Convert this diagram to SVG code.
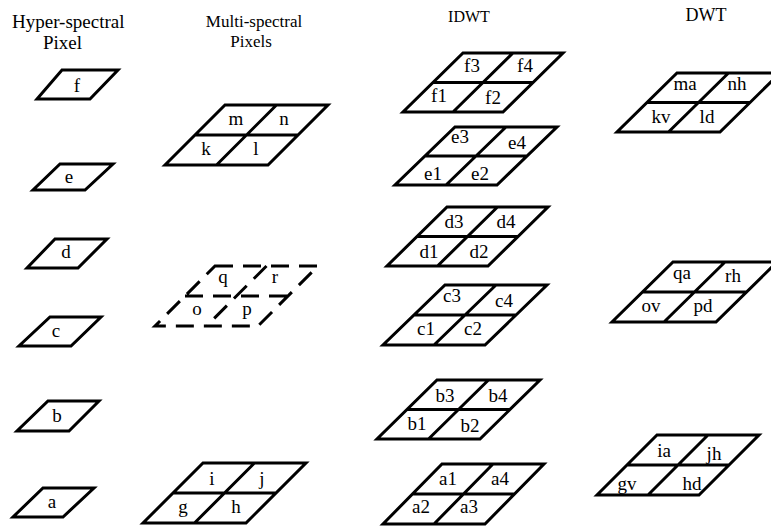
<svg xmlns="http://www.w3.org/2000/svg" width="771" height="527" viewBox="0 0 771 527">
<style>
.c{fill:none;stroke:#000;stroke-width:3;stroke-linejoin:miter}
.d{stroke-dasharray:18,10}
text{font-family:"Liberation Serif","Times New Roman",serif;font-size:19px;fill:#000}
.m{text-anchor:middle}
</style>
<rect width="771" height="527" fill="#fff"/>
<g id="titles">
<text x="12" y="28">Hyper-spectral</text>
<text x="43" y="49">Pixel</text>
<text class="m" x="254" y="27" style="font-size:17px">Multi-spectral</text>
<text class="m" x="251" y="47" style="font-size:17px">Pixels</text>
<text class="m" x="469" y="22" style="font-size:16px">IDWT</text>
<text class="m" x="706" y="21" style="font-size:18px">DWT</text>
</g>
<g id="hyper-f"><path class="c" d="M62 70L118 70L90 99L37 99Z"/><text class="m" x="77" y="92">f</text></g>
<g id="hyper-e"><path class="c" d="M60 164L113 164L85 190L33 190Z"/><text class="m" x="69" y="183">e</text></g>
<g id="hyper-d"><path class="c" d="M55 239L107 239L78 268L27 268Z"/><text class="m" x="66" y="258">d</text></g>
<g id="hyper-c"><path class="c" d="M50 317L101 317L71 346L19 346Z"/><text class="m" x="56" y="337">c</text></g>
<g id="hyper-b"><path class="c" d="M48 401L99 401L69 431L17 431Z"/><text class="m" x="57" y="422">b</text></g>
<g id="hyper-a"><path class="c" d="M43 488L94 488L63 517L13 517Z"/><text class="m" x="52" y="508">a</text></g>

<g id="multi-mnkl"><path class="c" d="M225 105L328 105L268 165L165 165ZM195 135L298 135M276.5 105L216.5 165"/>
<text class="m" x="236" y="125">m</text><text class="m" x="284" y="125">n</text><text class="m" x="206" y="155">k</text><text class="m" x="256" y="155">l</text></g>
<g id="multi-opqr"><path class="c d" d="M215 266L318 266L258 326L155 326ZM185 296L288 296M266.5 266L206.5 326"/>
<text class="m" x="223" y="283">q</text><text class="m" x="275" y="283">r</text><text class="m" x="197" y="315">o</text><text class="m" x="247" y="315">p</text></g>
<g id="multi-ijgh"><path class="c" d="M203 463L306 463L246 523L143 523ZM173 493L276 493M254.5 463L194.5 523"/>
<text class="m" x="212" y="485">i</text><text class="m" x="262" y="485">j</text><text class="m" x="183" y="513">g</text><text class="m" x="236" y="513">h</text></g>

<g id="idwt-f"><path class="c" d="M463 53L563 53L503 112L403 112ZM433 82.5L533 82.5M513 53L453 112"/>
<text class="m" x="472" y="72">f3</text><text class="m" x="525" y="72">f4</text><text class="m" x="439" y="102">f1</text><text class="m" x="493" y="104">f2</text></g>
<g id="idwt-e"><path class="c" d="M455 127L557 127L497 185L395 185ZM425 156L527 156M506 127L446 185"/>
<text class="m" x="460" y="143">e3</text><text class="m" x="517" y="149">e4</text><text class="m" x="433" y="180">e1</text><text class="m" x="480" y="180">e2</text></g>
<g id="idwt-d"><path class="c" d="M447 207L548 207L488 266L387 266ZM417 236.5L518 236.5M497.5 207L437.5 266"/>
<text class="m" x="454" y="228">d3</text><text class="m" x="506" y="228">d4</text><text class="m" x="429" y="258">d1</text><text class="m" x="479" y="258">d2</text></g>
<g id="idwt-c"><path class="c" d="M445 285L547 285L485 345L383 345ZM414 315L516 315M496 285L434 345"/>
<text class="m" x="452" y="302">c3</text><text class="m" x="504" y="307">c4</text><text class="m" x="426" y="335">c1</text><text class="m" x="473" y="335">c2</text></g>
<g id="idwt-b"><path class="c" d="M437 380L540 380L480 439L377 439ZM407 409.5L510 409.5M488.5 380L428.5 439"/>
<text class="m" x="445" y="402">b3</text><text class="m" x="498" y="402">b4</text><text class="m" x="417" y="430">b1</text><text class="m" x="470" y="432">b2</text></g>
<g id="idwt-a"><path class="c" d="M442 464L544 464L485 524L383 524ZM412.5 494L514.5 494M493 464L434 524"/>
<text class="m" x="448" y="485">a1</text><text class="m" x="500" y="485">a4</text><text class="m" x="421" y="513">a2</text><text class="m" x="469" y="513">a3</text></g>

<g id="dwt-m"><path class="c" d="M677 73L780 73L720 132L617 132ZM647 102.5L750 102.5M728.5 73L668.5 132"/>
<text class="m" x="685" y="90">ma</text><text class="m" x="737" y="90">nh</text><text class="m" x="661" y="123">kv</text><text class="m" x="707" y="123">ld</text></g>
<g id="dwt-q"><path class="c" d="M673 262L777 262L716 322L612 322ZM642.5 292L746.5 292M725 262L664 322"/>
<text class="m" x="682" y="279">qa</text><text class="m" x="733" y="282">rh</text><text class="m" x="651" y="312">ov</text><text class="m" x="703" y="312">pd</text></g>
<g id="dwt-i"><path class="c" d="M657 435L759 435L699 495L597 495ZM627 465L729 465M708 435L648 495"/>
<text class="m" x="664" y="457">ia</text><text class="m" x="714" y="460">jh</text><text class="m" x="627" y="490">gv</text><text class="m" x="692" y="490">hd</text></g>
<g id="connectors"/>
</svg>
